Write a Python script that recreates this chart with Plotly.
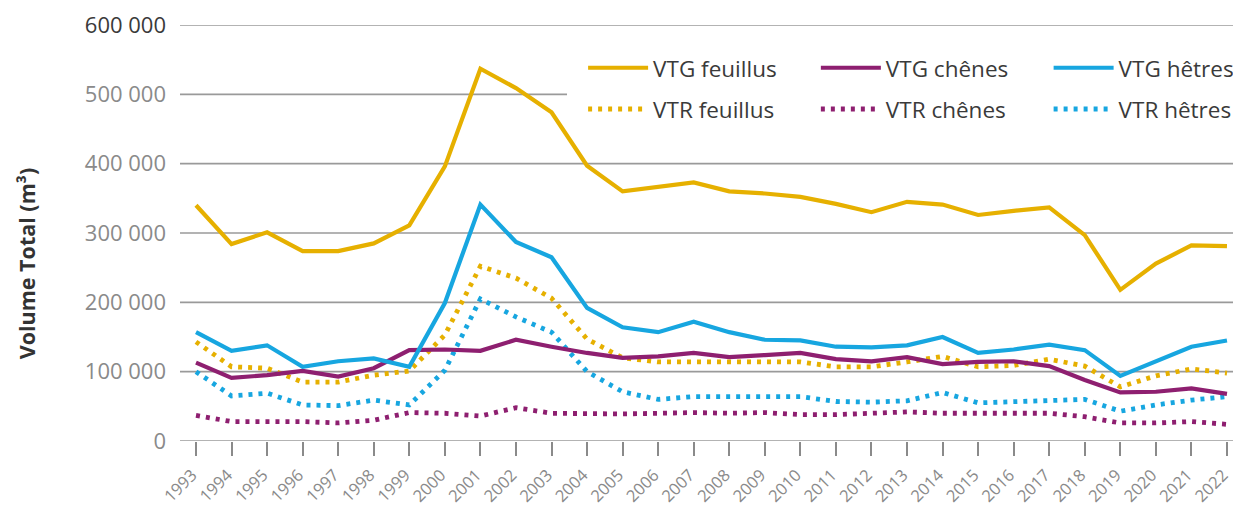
import plotly.graph_objects as go

years = list(range(1993, 2023))

vtg_feuillus = [340000, 284000, 301000, 274000, 274000, 285000, 311000, 396000, 537000, 509000,
                474000, 397000, 360000, 367000, 373000, 360000, 357000, 352000, 342000, 330000,
                345000, 341000, 326000, 332000, 337000, 297000, 218000, 256000, 282000, 281000]
vtr_feuillus = [143000, 107000, 105000, 85000, 85000, 95000, 101000, 153000, 252000, 235000,
                206000, 147000, 120000, 114000, 114000, 114000, 114000, 114000, 107000, 107000,
                114000, 122000, 107000, 109000, 118000, 108000, 78000, 94000, 104000, 98000]
vtg_chenes = [113000, 91000, 95000, 101000, 93000, 105000, 131000, 132000, 130000, 146000,
              136000, 127000, 120000, 122000, 127000, 121000, 124000, 127000, 118000, 115000,
              121000, 111000, 114000, 115000, 108000, 88000, 70000, 71000, 76000, 68000]
vtr_chenes = [37000, 28000, 28000, 28000, 26000, 30000, 41000, 40000, 36000, 48000,
              40000, 39000, 39000, 40000, 41000, 40000, 41000, 38000, 38000, 40000,
              42000, 40000, 40000, 40000, 40000, 35000, 26000, 26000, 28000, 24000]
vtg_hetres = [157000, 130000, 138000, 107000, 115000, 119000, 107000, 199000, 341000, 287000,
              265000, 192000, 164000, 157000, 172000, 157000, 146000, 145000, 136000, 135000,
              138000, 150000, 127000, 132000, 139000, 131000, 94000, 115000, 136000, 145000]
vtr_hetres = [100000, 65000, 69000, 52000, 51000, 59000, 52000, 102000, 205000, 179000,
              157000, 100000, 71000, 60000, 64000, 64000, 64000, 64000, 57000, 56000,
              58000, 70000, 55000, 57000, 59000, 60000, 43000, 52000, 59000, 64000]

y_tickvals = [0, 100000, 200000, 300000, 400000, 500000, 600000]
y_ticktext = ["0", "100 000", "200 000", "300 000", "400 000", "500 000",
              '<span style="color:#3a3a3a">600 000</span>']

GOLD = "#E6B000"
PURPLE = "#8E1F70"
BLUE = "#17A6E0"
DOT = "4px,6px"

series = [
    ("VTG feuillus", vtg_feuillus, GOLD, "solid", "legend"),
    ("VTR feuillus", vtr_feuillus, GOLD, DOT, "legend"),
    ("VTG chênes", vtg_chenes, PURPLE, "solid", "legend2"),
    ("VTR chênes", vtr_chenes, PURPLE, DOT, "legend2"),
    ("VTG hêtres", vtg_hetres, BLUE, "solid", "legend3"),
    ("VTR hêtres", vtr_hetres, BLUE, DOT, "legend3"),
]

fig = go.Figure()
order = [1, 3, 5, 0, 2, 4]
for i in order:
    name, vals, col, dash, lg = series[i]
    fig.add_trace(go.Scatter(
        x=years, y=vals, name=name, mode="lines",
        line=dict(color=col, width=4.2 if dash == "solid" else 4.8, dash=dash),
        legend=lg, legendgroup=name, legendrank=i + 1,
        hoverinfo="skip",
    ))

FONT = "Open Sans"
leg_common = dict(
    bgcolor="rgba(0,0,0,0)", borderwidth=0, orientation="v",
    font=dict(family=FONT, size=22.5, color="#3a3a3a"),
    yanchor="top", xanchor="left", traceorder="grouped", tracegroupgap=9,
    itemwidth=60,
)

# gridlines drawn from the tick values; the 500 000 line stops where the legend box starts
grid_shapes = []
for v in y_tickvals:
    grid_shapes.append(dict(type="line", xref="paper", yref="y", x0=0,
                            x1=0.3658 if v == 500000 else 1, y0=v, y1=v,
                            line=dict(color="#9a9a9a", width=1.7), layer="below"))

# the page body has an 8px margin, so the figure is 8px smaller than the window
fig.update_layout(
    width=1233, height=500,
    margin=dict(l=172, r=3, t=17, b=67, autoexpand=False),
    paper_bgcolor="white", plot_bgcolor="white",
    font=dict(family=FONT),
    showlegend=True,
    legend=dict(x=0.381, y=0.948, **leg_common),
    legend2=dict(x=0.601, y=0.948, **leg_common),
    legend3=dict(x=0.821, y=0.948, **leg_common),
    xaxis=dict(
        range=[1992.55, 2022.31], tickmode="array", tickvals=years,
        ticktext=[str(y) for y in years], tickangle=-45,
        tickfont=dict(family=FONT, size=16.5, color="#8a8a8a"),
        ticks="outside", ticklen=14, tickwidth=1.6, tickcolor="#8a8a8a",
        ticklabelshift=-4, ticklabelstandoff=3,
        showgrid=False, showline=False, zeroline=False, automargin=False,
        fixedrange=True,
    ),
    yaxis=dict(
        range=[0, 600000], tickmode="array", tickvals=y_tickvals, ticktext=y_ticktext,
        tickfont=dict(family=FONT, size=22, color="#8a8a8a"),
        showgrid=False, zeroline=False, showline=False, ticks="", ticklabelstandoff=13,
        automargin=False, fixedrange=True,
    ),
    shapes=grid_shapes,
    annotations=[dict(text="<b>Volume Total (m³)</b>", textangle=-90, xref="paper", yref="paper",
                      x=-0.1455, y=0.425, xanchor="center", yanchor="middle", showarrow=False,
                      font=dict(family=FONT, size=21.5, color="#333333"))],
)

fig.write_html("out.html")
